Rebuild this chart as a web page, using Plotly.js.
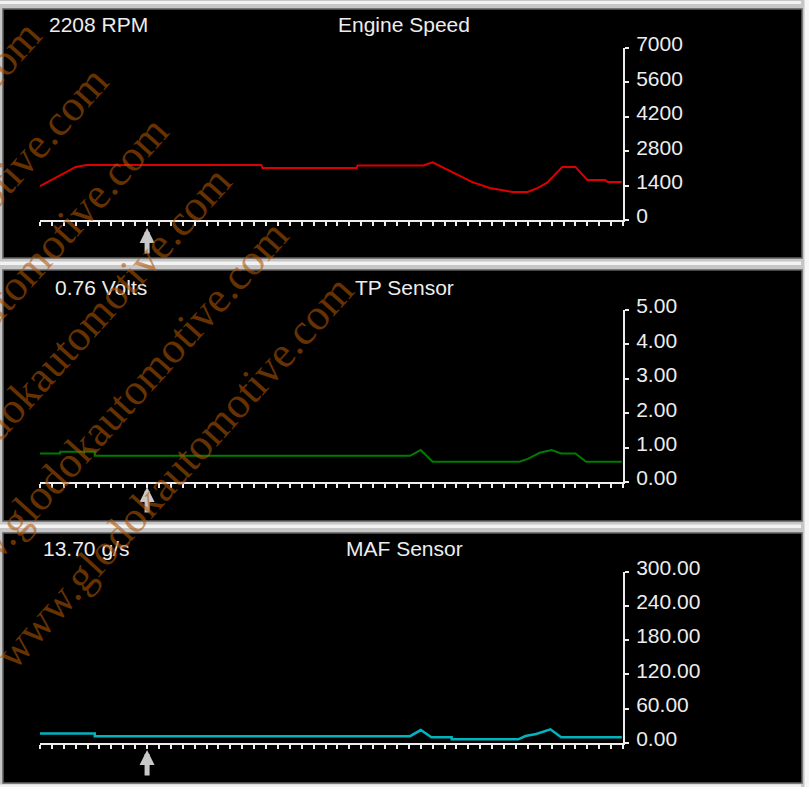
<!DOCTYPE html>
<html>
<head>
<meta charset="utf-8">
<script src="https://cdn.plot.ly/plotly-3.0.1.min.js"></script>
<style>
  html, body { margin: 0; padding: 0; background: #d0d0d0; }
  #chart { width: 809px; height: 787px; }
</style>
</head>
<body>
<div id="chart"></div>
<script>
// ---------------- data ----------------
const cursorIndex = 9;

const rpmT    = [0, 1, 2, 3, 3.9, 18.6, 18.7, 26.6, 26.7, 32.2, 33.0, 34.6, 36.3, 37.8, 38.7, 39.7, 41.0, 41.8, 42.6, 43.9, 45.0, 46.0, 47.5, 47.7, 48.9];
const rpmVals = [1380, 1630, 1910, 2160, 2240, 2240, 2120, 2120, 2220, 2220, 2350, 1950, 1550, 1300, 1220, 1140, 1140, 1300, 1510, 2160, 2160, 1630, 1630, 1550, 1550];

const tpT    = [0, 1.7, 1.7, 4.6, 4.6, 31.1, 32.0, 33.0, 40.3, 41.0, 42.0, 43.0, 43.8, 45.0, 45.9, 48.9];
const tpVals = [0.83, 0.83, 0.88, 0.88, 0.76, 0.76, 0.93, 0.59, 0.59, 0.67, 0.85, 0.93, 0.83, 0.83, 0.59, 0.59];

const mafT    = [0, 4.6, 4.6, 31.1, 32.0, 32.9, 34.6, 34.6, 40.2, 40.8, 41.7, 42.9, 43.8, 48.9];
const mafVals = [16.1, 16.1, 11.4, 11.4, 22.2, 9.4, 9.4, 5.9, 5.9, 11.7, 15.2, 23.4, 9.4, 9.4];

const rpmTicks = [0, 1400, 2800, 4200, 5600, 7000];
const tpTicks  = [0, 1, 2, 3, 4, 5];
const mafTicks = [0, 60, 120, 180, 240, 300];

const panelTitles  = ["Engine Speed", "TP Sensor", "MAF Sensor"];
const panelReadout = ["2208 RPM", "0.76 Volts", "13.70 g/s"];
const watermarkText = "www.glodokautomotive.com";

// ---------------- layout helpers ----------------
const W = 809, H = 787;
const px = v => v / W;
const py = v => 1 - v / H;

const fg = '#ededed';
const tickFont = { family: 'Liberation Sans, Arial, sans-serif', size: 21, color: fg };

function xAxis(anchor) {
  return {
    domain: [px(40), px(623)], range: [0, 49], anchor: anchor,
    showline: true, linecolor: fg, linewidth: 2,
    ticks: 'outside', ticklen: 4, tickwidth: 2, tickcolor: fg,
    tick0: 0, dtick: 1, showticklabels: false,
    showgrid: false, zeroline: false, fixedrange: true
  };
}
function yAxis(anchor, top, bottom, rng, tv, fmt) {
  return {
    domain: [py(bottom), py(top)], range: rng, anchor: anchor, side: 'right',
    showline: true, linecolor: fg, linewidth: 2,
    ticks: 'outside', ticklen: 4, tickwidth: 2, tickcolor: fg,
    tickmode: 'array', tickvals: tv, ticktext: tv.map(fmt),
    tickfont: tickFont, ticklabelshift: -4, ticklabelstandoff: 3,
    showgrid: false, zeroline: false, fixedrange: true
  };
}

const traces = [
  { x: rpmT, y: rpmVals, xaxis: 'x', yaxis: 'y', mode: 'lines', line: { color: '#dc0000', width: 2 } },
  { x: tpT, y: tpVals, xaxis: 'x2', yaxis: 'y2', mode: 'lines', line: { color: '#007a00', width: 2 } },
  { x: mafT, y: mafVals, xaxis: 'x3', yaxis: 'y3', mode: 'lines', line: { color: '#00b4be', width: 2.5 } }
];

// panels (pixel boxes)
const panels = [[3, 9, 802, 258], [3, 270, 802, 521], [3, 533, 802, 783]];
const shapes = [];
panels.forEach(p => {
  shapes.push({ type: 'rect', xref: 'paper', yref: 'paper', layer: 'below',
    x0: px(p[0]), x1: px(p[2]), y0: py(p[3]), y1: py(p[1]),
    fillcolor: '#000000', line: { color: '#606060', width: 1.5 } });
});
[[1, 4], [261.5, 265], [524.5, 528], [784.5, 787]].forEach(s => {
  shapes.push({ type: 'rect', xref: 'paper', yref: 'paper', layer: 'below',
    x0: 0, x1: px(801), y0: py(s[1]), y1: py(s[0]),
    fillcolor: '#f2f2f2', line: { width: 0 } });
});
shapes.push({ type: 'rect', xref: 'paper', yref: 'paper', layer: 'below',
  x0: px(804.5), x1: 1, y0: 0, y1: 1, fillcolor: '#f6f6f6', line: { width: 0 } });

const annotations = [];
const labelFont = { family: 'Liberation Sans, Arial, sans-serif', size: 21, color: fg };
const readoutX = [47, 53, 41];
const titleY = [24, 287, 548];
for (let i = 0; i < 3; i++) {
  annotations.push({ xref: 'paper', yref: 'paper', x: px(readoutX[i]), y: py(titleY[i]),
    xanchor: 'left', yanchor: 'middle', text: panelReadout[i], showarrow: false, font: labelFont });
  annotations.push({ xref: 'paper', yref: 'paper', x: px(404), y: py(titleY[i]),
    xanchor: 'center', yanchor: 'middle', text: panelTitles[i], showarrow: false, font: labelFont });
}

// cursor arrows
const arrowTip = [228, 487, 750];
['x', 'x2', 'x3'].forEach((xr, i) => {
  annotations.push({ xref: xr, yref: 'paper', x: cursorIndex, y: py(arrowTip[i]),
    ax: 0, ay: 27, text: '', showarrow: true, arrowhead: 2, arrowsize: 0.6,
    arrowwidth: 5, arrowcolor: '#c8c8c8', standoff: 0 });
});

// watermark (line ends, pixel coords)
const wmEnds = [[33, 27], [100, 73], [160, 123], [223, 173], [280, 227], [345, 282]];
const ang = 48 * Math.PI / 180, half = 256;
wmEnds.forEach(e => {
  const cx = e[0] - half * Math.cos(ang);
  const cy = e[1] + half * Math.sin(ang);
  annotations.push({ xref: 'paper', yref: 'paper', x: px(cx), y: py(cy),
    xanchor: 'center', yanchor: 'middle', text: watermarkText, textangle: -48,
    showarrow: false, font: { family: 'Liberation Serif, Times New Roman, serif', size: 44, color: 'rgba(175,85,5,0.6)' } });
});

const layout = {
  width: W, height: H, margin: { l: 0, r: 0, t: 0, b: 0 },
  paper_bgcolor: '#c6c6c6', plot_bgcolor: 'rgba(0,0,0,0)',
  showlegend: false, hovermode: false,
  xaxis: xAxis('y'), xaxis2: xAxis('y2'), xaxis3: xAxis('y3'),
  yaxis: yAxis('x', 48, 220, [0, 7000], rpmTicks, v => String(v)),
  yaxis2: yAxis('x2', 310, 482, [0, 5], tpTicks, v => v.toFixed(2)),
  yaxis3: yAxis('x3', 571.7, 742.7, [0, 300], mafTicks, v => v.toFixed(2)),
  shapes: shapes, annotations: annotations
};

Plotly.newPlot('chart', traces, layout, { staticPlot: true, displayModeBar: false });
</script>
</body>
</html>
